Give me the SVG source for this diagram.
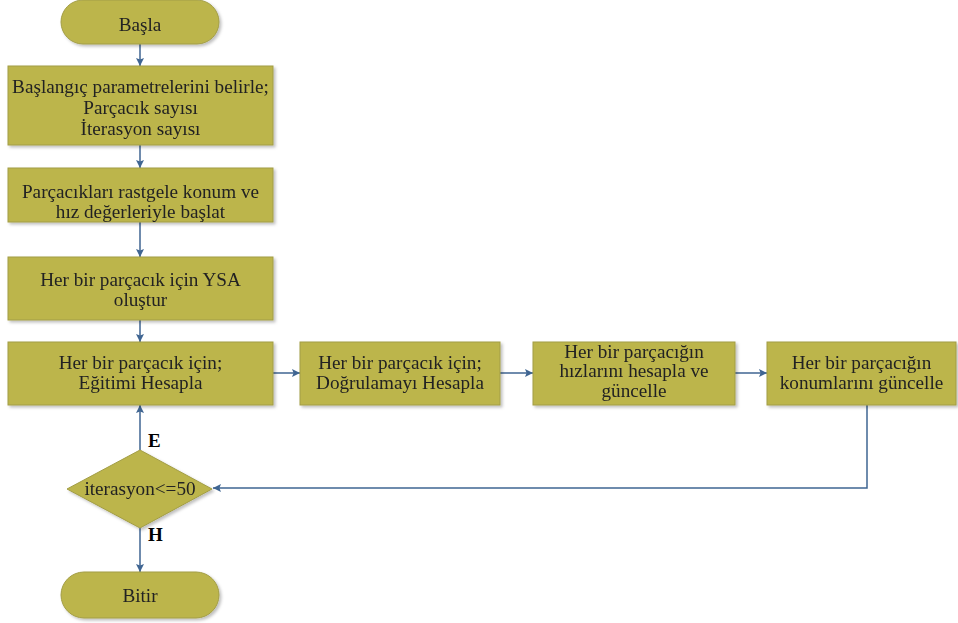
<svg xmlns="http://www.w3.org/2000/svg" width="958" height="623" viewBox="0 0 958 623">
<style>
.n{fill:#bcb54c;stroke:#a29d45;stroke-width:1}
.t{font-family:'Liberation Serif','DejaVu Serif','Times New Roman',serif;font-size:19.2px;fill:#222;text-anchor:middle}
.l{font-family:'Liberation Serif','DejaVu Serif','Times New Roman',serif;font-size:19px;font-weight:bold;fill:#000;text-anchor:start}
.c{fill:none;stroke:#3f6592;stroke-width:1.5}
</style>
<defs>
<filter id="sh" x="-5%" y="-10%" width="115%" height="130%">
<feDropShadow dx="2" dy="2" stdDeviation="1.5" flood-color="#000" flood-opacity="0.25"/>
</filter>
<marker id="a" viewBox="0 0 10 10" refX="10" refY="5" markerWidth="8" markerHeight="8" markerUnits="userSpaceOnUse" orient="auto">
<path d="M0,0 L10,5 L0,10 L2,5 z" fill="#3f6592"/>
</marker>
</defs>
<g id="connectors">
<path class="c" d="M140,44 V66" marker-end="url(#a)"/>
<path class="c" d="M140,145 V168" marker-end="url(#a)"/>
<path class="c" d="M140,222 V257" marker-end="url(#a)"/>
<path class="c" d="M140,320 V342" marker-end="url(#a)"/>
<path class="c" d="M273,373 H300" marker-end="url(#a)"/>
<path class="c" d="M500,373 H533" marker-end="url(#a)"/>
<path class="c" d="M735,373 H767" marker-end="url(#a)"/>
<path class="c" d="M867,405 V488 H213" marker-end="url(#a)"/>
<path class="c" d="M140,450 V405" marker-end="url(#a)"/>
<path class="c" d="M140,528 V572" marker-end="url(#a)"/>
<text class="l" x="148" y="447">E</text>
<text class="l" x="148" y="541">H</text>
</g>
<g id="start" filter="url(#sh)">
<rect class="n" x="61" y="0" width="158" height="44" rx="22"/>
<text class="t" x="140" y="31">Başla</text>
</g>
<g id="params" filter="url(#sh)">
<rect class="n" x="8" y="66" width="265" height="79"/>
<text class="t" x="140.5" y="93">Başlangıç parametrelerini belirle;</text>
<text class="t" x="140.5" y="114">Parçacık sayısı</text>
<text class="t" x="140.5" y="135">İterasyon sayısı</text>
</g>
<g id="init" filter="url(#sh)">
<rect class="n" x="8" y="168" width="265" height="54"/>
<text class="t" x="140.5" y="198">Parçacıkları rastgele konum ve</text>
<text class="t" x="140.5" y="218">hız değerleriyle başlat</text>
</g>
<g id="ysa" filter="url(#sh)">
<rect class="n" x="8" y="257" width="265" height="63"/>
<text class="t" x="140.5" y="286">Her bir parçacık için YSA</text>
<text class="t" x="140.5" y="306">oluştur</text>
</g>
<g id="egitim" filter="url(#sh)">
<rect class="n" x="8" y="342" width="265" height="63"/>
<text class="t" x="140.5" y="369">Her bir parçacık için;</text>
<text class="t" x="140.5" y="389">Eğitimi Hesapla</text>
</g>
<g id="dogrulama" filter="url(#sh)">
<rect class="n" x="300" y="342" width="200" height="63"/>
<text class="t" x="400" y="369">Her bir parçacık için;</text>
<text class="t" x="400" y="389">Doğrulamayı Hesapla</text>
</g>
<g id="hiz" filter="url(#sh)">
<rect class="n" x="533" y="342" width="202" height="63"/>
<text class="t" x="634" y="358">Her bir parçacığın</text>
<text class="t" x="634" y="377">hızlarını hesapla ve</text>
<text class="t" x="634" y="397">güncelle</text>
</g>
<g id="konum" filter="url(#sh)">
<rect class="n" x="767" y="342" width="189" height="63"/>
<text class="t" x="861.5" y="369">Her bir parçacığın</text>
<text class="t" x="861.5" y="389">konumlarını güncelle</text>
</g>
<g id="decision" filter="url(#sh)">
<polygon class="n" points="140,450 212,489 140,528 67,489"/>
<text class="t" x="140" y="495">iterasyon&lt;=50</text>
</g>
<g id="end" filter="url(#sh)">
<rect class="n" x="61" y="572" width="158" height="46" rx="23"/>
<text class="t" x="140" y="602">Bitir</text>
</g>
</svg>
